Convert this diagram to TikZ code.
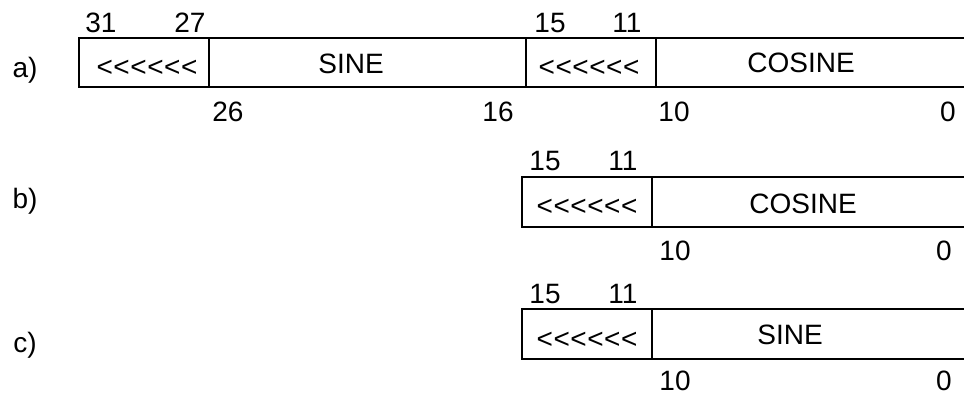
\documentclass[tikz,border=0pt]{standalone}
\usepackage{fontspec}
\setmainfont{Liberation Sans}
\newcommand\dfont{\fontsize{21}{25}\selectfont}
\newcommand\chev{<\kern0.4pt<\kern0.4pt<\kern0.4pt<\kern0.4pt<\kern0.4pt<}
\tikzset{
  lbl/.style={font=\dfont, inner sep=0pt, anchor=base},
  frame/.style={line width=0.9pt, black}
}
\begin{document}
\begin{tikzpicture}[x=0.75pt,y=-0.75pt]
\useasboundingbox (0,0) rectangle (964,396);
% ---------- row a
\draw[frame] (964,38) -- (79,38) -- (79,87) -- (964,87);
\draw[frame] (209,38) -- (209,87);
\draw[frame] (526,38) -- (526,87);
\draw[frame] (656,38) -- (656,87);
\node[lbl] (la) at (25,77) {a)};
\node[lbl] (a31) at (101,32) {31};
\node[lbl] (a27) at (190,32) {27};
\node[lbl] (a15) at (550,32) {15};
\node[lbl] (a11) at (627,32) {11};
\node[lbl] (a26) at (228,121) {26};
\node[lbl] (a16) at (498,121) {16};
\node[lbl] (a10) at (674,121) {10};
\node[lbl] (a0) at (948,121) {0};
\node[lbl] (ach1) at (147,76) {\chev};
\node[lbl] (asine) at (351,73) {SINE};
\node[lbl] (ach2) at (589,76) {\chev};
\node[lbl] (acos) at (801,72) {COSINE};
% ---------- row b
\draw[frame] (964,177) -- (522,177) -- (522,227) -- (964,227);
\draw[frame] (652,177) -- (652,227);
\node[lbl] (lb) at (25,208) {b)};
\node[lbl] (b15) at (545,170) {15};
\node[lbl] (b11) at (623,170) {11};
\node[lbl] (b10) at (675,260) {10};
\node[lbl] (b0) at (944,260) {0};
\node[lbl] (bch) at (587,215) {\chev};
\node[lbl] (bcos) at (803,213) {COSINE};
% ---------- row c
\draw[frame] (964,309) -- (522,309) -- (522,359) -- (964,359);
\draw[frame] (652,309) -- (652,359);
\node[lbl] (lc) at (25,352) {c)};
\node[lbl] (c15) at (545,303) {15};
\node[lbl] (c11) at (623,303) {11};
\node[lbl] (c10) at (675,390) {10};
\node[lbl] (c0) at (944,390) {0};
\node[lbl] (cch) at (587,348) {\chev};
\node[lbl] (csine) at (790,344) {SINE};
\end{tikzpicture}
\end{document}
